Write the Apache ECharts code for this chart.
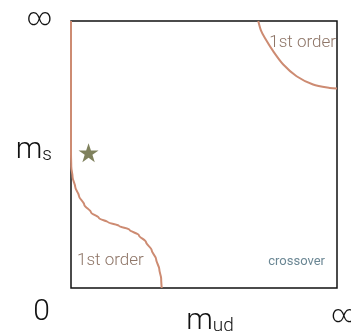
<!DOCTYPE html>
<html>
<head>
<meta charset="utf-8">
<script src="https://cdn.jsdelivr.net/npm/echarts@6/dist/echarts.min.js"></script>
<style>
  html, body { margin: 0; padding: 0; background: #fff; }
  #chart { width: 351px; height: 331px; }
</style>
</head>
<body>
<div id="chart"></div>
<script>
// Columbia-plot style phase diagram: light-quark mass vs strange-quark mass,
// both running from 0 to infinity (normalised to 0..1 here).

// Lower-left first-order boundary (m_ud, m_s)
const lowBoundaryX = [0, 0, 0, 0.001, 0.006, 0.016, 0.030, 0.050, 0.075, 0.105, 0.140, 0.180, 0.220, 0.255, 0.282, 0.303, 0.320, 0.332, 0.339, 0.341];
const lowBoundaryY = [1, 0.75, 0.50, 0.455, 0.415, 0.378, 0.345, 0.312, 0.284, 0.262, 0.246, 0.233, 0.218, 0.198, 0.172, 0.142, 0.108, 0.070, 0.035, 0];

// Upper-right first-order boundary (pure gauge corner)
const highBoundaryX = [0.704, 0.714, 0.729, 0.760, 0.798, 0.848, 0.910, 0.973, 1.0];
const highBoundaryY = [1.0, 0.965, 0.936, 0.887, 0.837, 0.793, 0.762, 0.749, 0.747];

// Physical point
const physicalPoint = [[0.066, 0.507]];

// Axis tick labels
const xTickLabels = { 0: '{z|0}', 1: '{inf|∞}' };
const yTickLabels = { 0: '', 0.5: '{m|m}{s|s}', 1: '{inf|∞}' };

const curveColor = '#cd8b72';
const labelFont = 'Roboto';
const ink = '#111';

const pair = (xs, ys) => xs.map((x, i) => [x, ys[i]]);

const chart = echarts.init(document.getElementById('chart'));
chart.setOption({
  animation: false,
  grid: {
    left: 71, top: 21, right: 14, bottom: 43,
    outerBoundsMode: 'none', containLabel: false,
    show: true, borderColor: ink, borderWidth: 1.5,
    backgroundColor: 'transparent'
  },
  xAxis: {
    type: 'value', min: 0, max: 1, interval: 1,
    axisLine: { show: false }, axisTick: { show: false }, splitLine: { show: false },
    axisLabel: {
      margin: 9,
      alignMinLabel: 'right', alignMaxLabel: 'center',
      formatter: v => xTickLabels[v] ?? '',
      rich: {
        z: { fontFamily: labelFont, fontWeight: 300, fontSize: 30, color: ink, padding: [0, 21, 0, 0] },
        inf: { fontFamily: labelFont, fontWeight: 300, fontSize: 24, color: ink, padding: [7, 0, 0, 14] }
      }
    },
    name: '{m|m}{s|ud}',
    nameLocation: 'middle', nameGap: 18, nameMoveOverlap: false,
    nameTextStyle: {
      verticalAlign: 'top',
      rich: {
        m: { fontFamily: labelFont, fontWeight: 300, fontSize: 30, color: ink, padding: [0, 0, 0, 12] },
        s: { fontFamily: labelFont, fontWeight: 300, fontSize: 19, color: ink, padding: [10, 0, 0, 0] }
      }
    }
  },
  yAxis: {
    type: 'value', min: 0, max: 1, interval: 0.5,
    axisLine: { show: false }, axisTick: { show: false }, splitLine: { show: false },
    axisLabel: {
      margin: 19,
      formatter: v => yTickLabels[v] ?? '',
      rich: {
        m: { fontFamily: labelFont, fontWeight: 300, fontSize: 30, color: ink, padding: [0, 0, 8, 0] },
        s: { fontFamily: labelFont, fontWeight: 300, fontSize: 19, color: ink, padding: [10, 0, 8, 0] },
        inf: { fontFamily: labelFont, fontWeight: 300, fontSize: 24, color: ink, padding: [0, 0, 4, 0] }
      }
    }
  },
  series: [
    {
      type: 'line', data: pair(lowBoundaryX, lowBoundaryY),
      smooth: 0.3, smoothMonotone: 'y', symbol: 'none', z: 5,
      lineStyle: { color: curveColor, width: 2 }
    },
    {
      type: 'line', data: pair(highBoundaryX, highBoundaryY),
      smooth: 0.3, symbol: 'none', z: 5,
      lineStyle: { color: curveColor, width: 2 }
    },
    {
      type: 'scatter', data: physicalPoint, z: 6,
      symbol: 'path://M50,0 L61.8,35.2 L99,35.2 L69,57 L80.4,92.3 L50,70.6 L19.6,92.3 L31,57 L1,35.2 L38.2,35.2 Z',
      symbolSize: [20, 19],
      itemStyle: { color: '#5f6234' }
    }
  ],
  graphic: [
    {
      type: 'text', right: 15, top: 34,
      style: { text: '1st order', font: '300 17px Roboto', fill: '#8e7567' }
    },
    {
      type: 'text', left: 77, top: 252,
      style: { text: '1st order', font: '300 17px Roboto', fill: '#8e7567' }
    },
    {
      type: 'text', right: 26, top: 255,
      style: { text: 'crossover', font: '400 13px Roboto', fill: '#6b8794' }
    }
  ]
});
</script>
</body>
</html>
